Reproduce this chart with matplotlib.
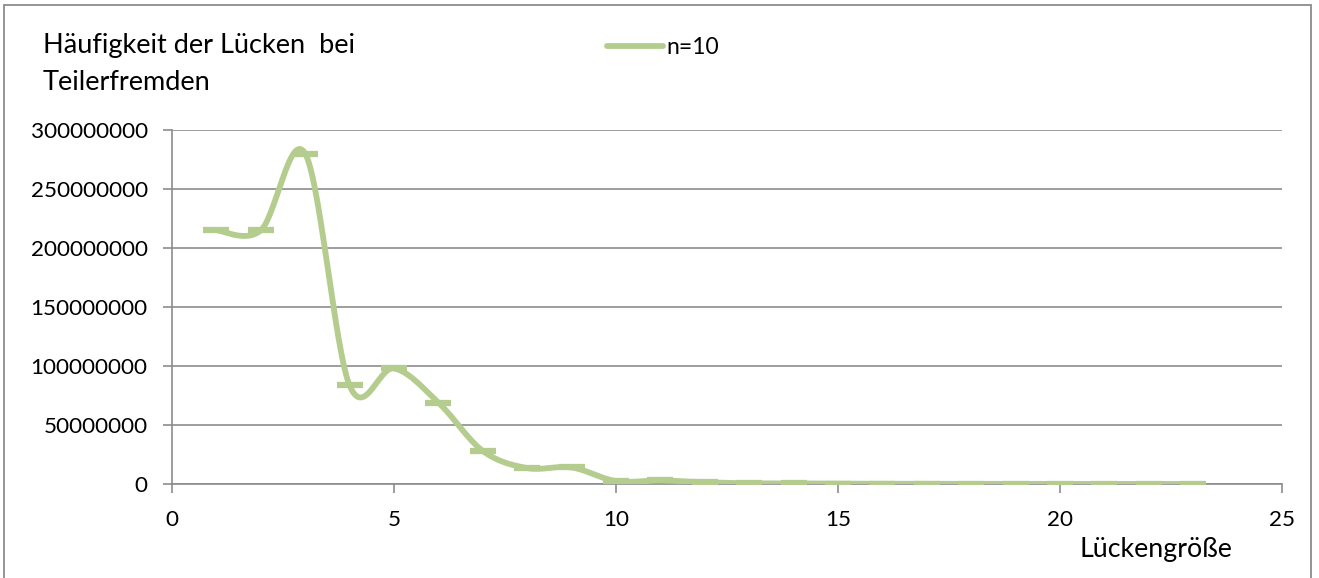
# Frequency of gaps between coprimes, n=10 (Excel-style smoothed scatter).
import matplotlib.pyplot as plt
import matplotlib.patches as mpatches
from matplotlib.ticker import FuncFormatter
import numpy as np

plt.rcParams['font.family'] = ['Lato', 'DejaVu Sans']

GAP = [1, 2, 3, 4, 5, 6, 7, 8, 9, 10, 11, 12, 13, 14, 15, 16, 17, 18, 19, 20, 21, 22, 23]
COUNT = [215e6, 215e6, 280e6, 83.5e6, 98e6, 69e6, 28e6, 13.5e6, 14e6, 2.5e6, 3e6, 1.5e6,
         0.6e6, 0.5e6, 0.3e6, 0.2e6, 0.15e6, 0.12e6, 0.1e6, 0.08e6, 0.06e6, 0.05e6, 0.04e6]
SERIES = "n=10"
TITLE_LINES = ["Häufigkeit der Lücken  bei", "Teilerfremden"]
XLABEL = "Lückengröße"

GREEN = "#b4cd8f"
GRID = "#8c8c8c"


def smooth(xs, ys, steps=30):
    # Bezier smoothing like Excel's "smoothed line" (Catmull-Rom control points)
    p = np.column_stack([xs, ys]).astype(float)
    p = np.vstack([p[0], p, p[-1]])
    out = []
    t = np.linspace(0, 1, steps)[:, None]
    for i in range(1, len(p) - 2):
        p0, p1, p2, p3 = p[i - 1], p[i], p[i + 1], p[i + 2]
        c1 = p1 + (p2 - p0) / 6
        c2 = p2 - (p3 - p1) / 6
        seg = ((1 - t) ** 3) * p1 + 3 * ((1 - t) ** 2) * t * c1 + 3 * (1 - t) * t ** 2 * c2 + t ** 3 * p2
        out.append(seg)
    out = np.vstack(out)
    return out[:, 0], out[:, 1]


def main():
    fig = plt.figure(figsize=(13.19, 5.78), dpi=100)
    ax = fig.add_axes([172 / 1319, 1 - 484 / 578, (1282 - 172) / 1319, (484 - 130) / 578])

    sx, sy = smooth(GAP, COUNT)
    ax.plot(sx, sy, color=GREEN, linewidth=4.2, solid_capstyle="round", zorder=3)
    ax.plot(GAP, COUNT, linestyle="None", marker="_", markersize=19, markeredgewidth=4.5,
            color=GREEN, zorder=4)

    ax.set_xlim(0, 25)
    ax.set_ylim(0, 300e6)
    ax.set_xticks(np.arange(0, 26, 5))
    ax.set_yticks(np.arange(0, 300e6 + 1, 50e6))
    ax.yaxis.set_major_formatter(FuncFormatter(lambda v, _: f"{int(round(v))}"))
    ax.grid(axis="y", color=GRID, linewidth=1.2)
    ax.set_axisbelow(True)
    for s in ("top", "right"):
        ax.spines[s].set_visible(False)
    for s in ("left", "bottom"):
        ax.spines[s].set_color(GRID)
        ax.spines[s].set_linewidth(1.2)
    ax.tick_params(axis="both", colors=GRID, length=6.5, width=1.2, labelsize=16.2, labelcolor="black")
    ax.tick_params(axis="y", pad=11)
    ax.tick_params(axis="x", pad=12)

    fig.text(43 / 1319, 1 - 53 / 578, TITLE_LINES[0], fontsize=19.5, va="baseline", ha="left")
    fig.text(43 / 1319, 1 - 90 / 578, TITLE_LINES[1], fontsize=19.5, va="baseline", ha="left")
    fig.text(1156 / 1319, 1 - 550 / 578, XLABEL, fontsize=19.3, va="center", ha="center")

    handle = plt.Line2D([0], [0], color=GREEN, linewidth=4.2, solid_capstyle="round")
    fig.legend(handles=[handle], labels=[SERIES], loc="center left",
               bbox_to_anchor=(607 / 1319, 1 - 48 / 578), frameon=False, fontsize=16.5,
               handlelength=2.45, handletextpad=0.12, borderaxespad=0, borderpad=0)

    fig.patches.append(mpatches.Rectangle((4 / 1319, -0.05), 1307 / 1319, 1.05 - 5 / 578,
                                          transform=fig.transFigure, fill=False,
                                          edgecolor=GRID, linewidth=1.3))

    fig.savefig("out.png", dpi=100)


if __name__ == "__main__":
    main()
